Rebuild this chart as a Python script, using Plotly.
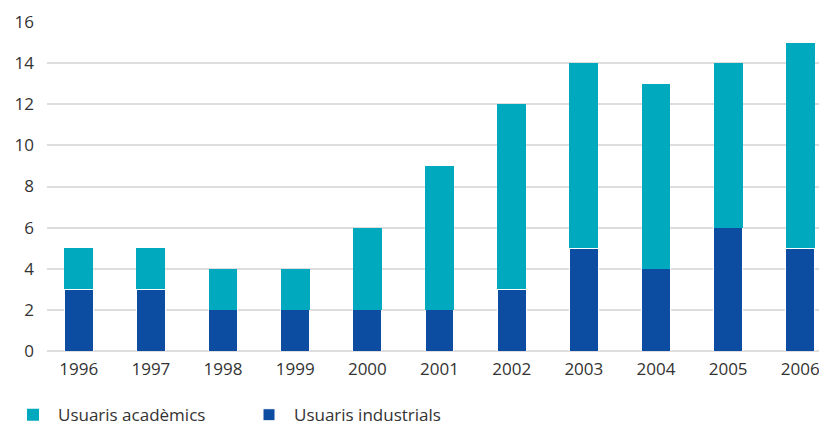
import plotly.graph_objects as go

years = ["1996", "1997", "1998", "1999", "2000", "2001", "2002", "2003", "2004", "2005", "2006"]
industrials = [3, 3, 2, 2, 2, 2, 3, 5, 4, 6, 5]
academics = [2, 2, 2, 2, 4, 7, 9, 9, 9, 8, 10]

teal = "#00A9BE"
blue = "#0C4DA2"

fig = go.Figure()
fig.add_trace(go.Bar(x=years, y=industrials, name="Usuaris industrials",
                     marker=dict(color=blue, line=dict(color="white", width=1))))
fig.add_trace(go.Bar(x=years, y=academics, name="Usuaris acadèmics",
                     marker=dict(color=teal, line=dict(color="white", width=0))))

fig.update_layout(
    barmode="stack",
    bargap=0.6,
    width=819, height=421,
    margin=dict(l=39, r=0, t=14, b=78, autoexpand=False),
    plot_bgcolor="white", paper_bgcolor="white",
    font=dict(family="Open Sans, Noto Sans, sans-serif", size=17, color="#333333"),
    showlegend=True,
    legend=dict(orientation="h", xref="container", yref="paper",
                x=0.0, xanchor="left", y=-0.195, yanchor="middle",
                traceorder="reversed", font=dict(size=17, color="#333333"),
                itemwidth=40, entrywidth=181),
    xaxis=dict(type="category", range=[-0.44, 10.37], showgrid=False, automargin=False,
               ticks="", showline=False, tickfont=dict(size=17), ticklabelstandoff=6),
    yaxis=dict(range=[0, 16], dtick=2, showgrid=True, gridcolor="#DDDDDD", gridwidth=1.5,
               zeroline=True, zerolinecolor="#DDDDDD", zerolinewidth=1.5, automargin=False,
               ticks="", ticklabelstandoff=12, tickfont=dict(size=17)),
)

fig.write_html("out.html")
